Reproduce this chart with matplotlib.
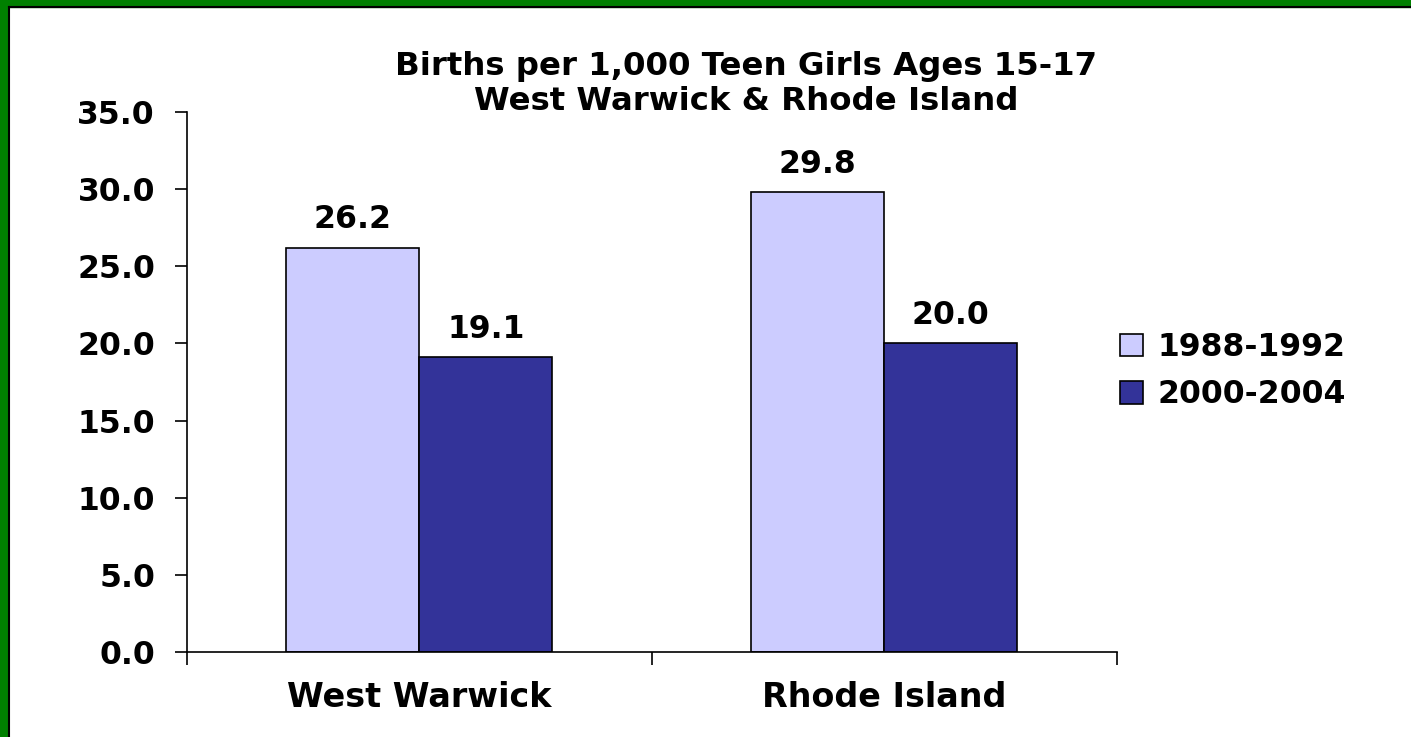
import matplotlib
matplotlib.use("Agg")
import matplotlib.pyplot as plt
from matplotlib.patches import Rectangle
import numpy as np

# data
places = ["West Warwick", "Rhode Island"]
series_names = ["1988-1992", "2000-2004"]
rate_1988 = [26.2, 29.8]
rate_2000 = [19.1, 20.0]
y_ticks = [0, 5, 10, 15, 20, 25, 30, 35]

plt.rcParams["font.family"] = ["DejaVu Sans"]
plt.rcParams["font.weight"] = "bold"
FS = 22.7

fig = plt.figure(figsize=(14.11, 7.37), dpi=100)
ax = fig.add_axes([0.1325, 0.1153, 0.659, 0.733])

x = np.arange(len(places))
w = 0.286
colors = ["#CCCCFF", "#333399"]
b1 = ax.bar(x - w / 2, rate_1988, w, color=colors[0], edgecolor="black", linewidth=1.2, label=series_names[0])
b2 = ax.bar(x + w / 2, rate_2000, w, color=colors[1], edgecolor="black", linewidth=1.2, label=series_names[1])

for bars in (b1, b2):
    for rect in bars:
        h = rect.get_height()
        ax.annotate(f"{h:.1f}", (rect.get_x() + rect.get_width() / 2, h),
                    xytext=(0, 9), textcoords="offset points",
                    ha="center", va="bottom", fontsize=FS, fontweight="bold")

ax.set_xlim(-0.5, len(places) - 0.5)
ax.set_ylim(0, 35)
ax.set_yticks(y_ticks)
ax.set_yticklabels([f"{v:.1f}" for v in y_ticks])
ax.set_xticks(x)
ax.set_xticklabels(places)
ax.set_xticks(np.arange(-0.5, len(places)), minor=True)
ax.tick_params(axis="x", which="major", length=0, pad=21, labelsize=24)
ax.tick_params(axis="x", which="minor", length=9, width=1.2, direction="out")
ax.tick_params(axis="y", length=9, width=1.2, direction="out", labelsize=FS, pad=14)
for lab in ax.get_xticklabels() + ax.get_yticklabels():
    lab.set_fontweight("bold")

ax.spines["top"].set_visible(False)
ax.spines["right"].set_visible(False)
ax.spines["left"].set_linewidth(1.2)
ax.spines["bottom"].set_linewidth(1.2)

fig.text(0.529, 0.886, "Births per 1,000 Teen Girls Ages 15-17\nWest Warwick & Rhode Island",
         ha="center", va="center", fontsize=23.3, fontweight="bold", linespacing=1.2)

leg = ax.legend(loc="center left", bbox_to_anchor=(1.0032, 0.52), frameon=False,
                borderaxespad=0, borderpad=0,
                fontsize=FS, handlelength=0.73, handleheight=0.73, handletextpad=0.47,
                labelspacing=0.52)
for t in leg.get_texts():
    t.set_fontweight("bold")

# green frame on top and left edge
fig.patches.append(Rectangle((0, 0.991), 1, 0.009, transform=fig.transFigure, color="#008000", zorder=0))
fig.patches.append(Rectangle((0, 0), 0.0057, 1, transform=fig.transFigure, color="#008000", zorder=0))
fig.lines.append(plt.Line2D([0.0064, 1], [0.9905, 0.9905], transform=fig.transFigure, color="black", lw=1.5))
fig.lines.append(plt.Line2D([0.0064, 0.0064], [0, 0.9905], transform=fig.transFigure, color="black", lw=1.5))

fig.savefig("out.png", dpi=100)
